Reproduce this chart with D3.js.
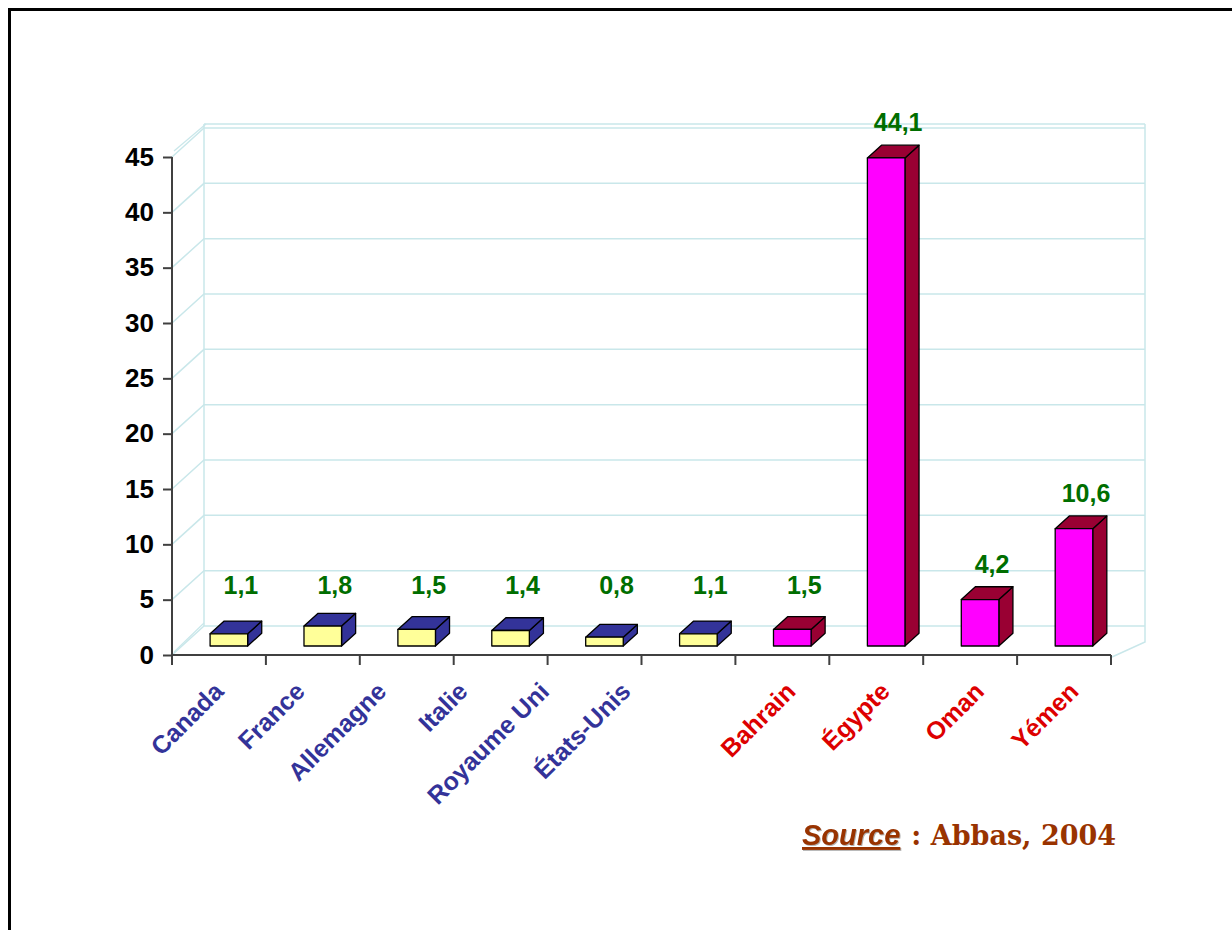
<!DOCTYPE html>
<html>
<head>
<meta charset="utf-8">
<script src="https://cdn.jsdelivr.net/npm/d3@7"></script>
<style>
  html, body { margin: 0; padding: 0; background: #fff; }
  svg { display: block; }
</style>
</head>
<body>
<svg id="chart" width="1232" height="930"></svg>
<script>
// ---------- data ----------
const categories = ["Canada", "France", "Allemagne", "Italie", "Royaume Uni", "États-Unis", "Bahrain", "Égypte", "Oman", "Yémen"];
const values = [1.1, 1.8, 1.5, 1.4, 0.8, 1.1, 1.5, 44.1, 4.2, 10.6];
const groups = ["ouest", "ouest", "ouest", "ouest", "ouest", "ouest", "arabe", "arabe", "arabe", "arabe"];
const yTickValues = [0, 5, 10, 15, 20, 25, 30, 35, 40, 45];
const sourceLabel = "Source";
const sourceText = ": Abbas, 2004";

// ---------- layout ----------
const svg = d3.select("#chart");
const DX = 32, DY = -29;          // 3D depth offset
const F1 = 0.31, F2 = 0.75;        // bar depth (fraction of depth)

const x = d3.scaleBand().domain(categories).range([172, 1111]).paddingInner(0.6).paddingOuter(0.3);
const y = d3.scaleLinear().domain([0, 45]).range([655, 157]);

const colors = {
  ouest: { front: "#ffff99", top: "#333399", side: "#333399", label: "#333399" },
  arabe: { front: "#ff00ff", top: "#990033", side: "#990033", label: "#dd0000" }
};
const gridColor = "#c9e7ea";

// border frame
svg.append("path")
  .attr("d", "M9.5,930 L9.5,9.5 L1232,9.5")
  .attr("fill", "none").attr("stroke", "#000").attr("stroke-width", 3);

const P = (xx, v, f) => [xx + f * DX, y(v) + f * DY];

// ---------- walls & grid ----------
const walls = svg.append("g");
const xLeft = x.range()[0], xRight = x.range()[1];
const backRight = xRight + DX + 2;
yTickValues.forEach(v => {
  const a = P(xLeft, v, 0), b = P(xLeft, v, 1);
  walls.append("path")
    .attr("d", `M${a[0]},${a[1]}L${b[0]},${b[1]}L${backRight},${b[1]}`)
    .attr("fill", "none").attr("stroke", gridColor).attr("stroke-width", 1.5);
});
{
  const a = P(xLeft, 0, 0), b = P(xLeft, 0, 1);
  walls.append("line")
    .attr("x1", a[0] + 2).attr("y1", a[1] - 3).attr("x2", b[0]).attr("y2", b[1] - 3)
    .attr("stroke", gridColor).attr("stroke-width", 1.2);
}
const bTL = P(xLeft, 45, 1);
const bTopY = bTL[1] - 4;
walls.append("path")
  .attr("d", `M${bTL[0]},${bTopY}L${backRight},${bTopY}`)
  .attr("fill", "none").attr("stroke", gridColor).attr("stroke-width", 1.5);
walls.append("line")
  .attr("x1", bTL[0]).attr("y1", bTopY).attr("x2", bTL[0]).attr("y2", P(xLeft, 0, 1)[1])
  .attr("stroke", gridColor).attr("stroke-width", 1.5);
walls.append("line")
  .attr("x1", xLeft + 2).attr("y1", P(xLeft, 45, 0)[1] - 6).attr("x2", bTL[0] + 2).attr("y2", bTopY)
  .attr("stroke", gridColor).attr("stroke-width", 1.2);
const floorRightFront = [xRight + 1, y(0) + 2];
walls.append("path")
  .attr("d", `M${backRight},${bTopY}L${backRight},${y(0) - 13}L${floorRightFront[0]},${floorRightFront[1]}`)
  .attr("fill", "none").attr("stroke", gridColor).attr("stroke-width", 1.5);

// ---------- axes ----------
const axisColor = "#404040";
const yAxis = d3.axisLeft(y).tickValues(yTickValues).tickSize(9).tickPadding(9).tickFormat(d3.format("d"));
const gy = svg.append("g").attr("transform", `translate(${xLeft},0)`).call(yAxis);
gy.select(".domain").remove();
gy.selectAll(".tick line").attr("stroke", axisColor).attr("stroke-width", 2);
gy.selectAll(".tick text")
  .attr("font-family", "'Liberation Sans', Arial, sans-serif")
  .attr("font-weight", "bold").attr("font-size", 26).attr("fill", "#000");
svg.append("line")
  .attr("x1", xLeft).attr("x2", xLeft).attr("y1", y(45)).attr("y2", y(0) + 10)
  .attr("stroke", axisColor).attr("stroke-width", 2);

svg.append("line")
  .attr("x1", xLeft).attr("x2", xRight).attr("y1", y(0)).attr("y2", y(0))
  .attr("stroke", axisColor).attr("stroke-width", 2);
const step = x.step();
d3.range(categories.length + 1).forEach(i => {
  const tx = xLeft + i * step;
  svg.append("line")
    .attr("x1", tx).attr("x2", tx).attr("y1", y(0)).attr("y2", y(0) + 10)
    .attr("stroke", axisColor).attr("stroke-width", 2);
});

// ---------- bars ----------
const data = categories.map((c, i) => ({ c, v: values[i], g: groups[i] }));
const bars = svg.append("g");
const poly = pts => "M" + pts.map(p => p.join(",")).join("L") + "Z";
data.forEach(d => {
  const x0 = x(d.c), x1 = x0 + x.bandwidth();
  const col = colors[d.g];
  const g = bars.append("g").attr("stroke", "#000").attr("stroke-width", 1.3).attr("stroke-linejoin", "round");
  g.append("path").attr("d", poly([P(x1, d.v, F1), P(x1, 0, F1), P(x1, 0, F2), P(x1, d.v, F2)])).attr("fill", col.side);
  g.append("path").attr("d", poly([P(x0, d.v, F1), P(x1, d.v, F1), P(x1, d.v, F2), P(x0, d.v, F2)])).attr("fill", col.top);
  g.append("path").attr("d", poly([P(x0, 0, F1), P(x1, 0, F1), P(x1, d.v, F1), P(x0, d.v, F1)])).attr("fill", col.front);
});

// value labels
const fmt = v => d3.format(".1f")(v).replace(".", ",");
svg.append("g").selectAll("text").data(data).join("text")
  .attr("x", d => x(d.c) + x.bandwidth() / 2 + (F1 + F2) / 2 * DX + 5)
  .attr("y", d => P(0, Math.max(d.v, 2.3), F1)[1] - 36)
  .attr("text-anchor", "middle").attr("dominant-baseline", "central")
  .attr("font-family", "'Liberation Sans', Arial, sans-serif")
  .attr("font-weight", "bold").attr("font-size", 25).attr("fill", "#006e00")
  .text(d => fmt(d.v));

// category labels (rotated)
const westCats = categories.filter((c, i) => groups[i] === "ouest");
const arabCats = categories.filter((c, i) => groups[i] === "arabe");
const xLabWest = d3.scalePoint().domain(westCats).range([225, 632]);
const xLabArab = d3.scalePoint().domain(arabCats).range([797, 1080]);
svg.append("g").selectAll("text").data(data).join("text")
  .attr("transform", d => `translate(${d.g === "ouest" ? xLabWest(d.c) : xLabArab(d.c)},${y(0) + 38}) rotate(-45)`)
  .attr("text-anchor", "end")
  .attr("font-family", "'Liberation Sans', Arial, sans-serif")
  .attr("font-weight", "bold").attr("font-size", 25)
  .attr("fill", d => colors[d.g].label)
  .text(d => d.c);

// ---------- source ----------
const src = svg.append("g").attr("transform", "translate(802,845)");
const s1 = src.append("text")
  .attr("font-family", "'Liberation Sans', Arial, sans-serif")
  .attr("font-style", "italic").attr("font-weight", "bold").attr("font-size", 29)
  .attr("text-decoration", "underline")
  .style("filter", "drop-shadow(1.5px 1.5px 0px rgba(0,0,0,0.3))")
  .attr("fill", "#993300").text(sourceLabel);
const w1 = s1.node().getComputedTextLength();
src.append("text").attr("x", w1 + 11)
  .attr("font-family", "'DejaVu Serif', serif")
  .attr("font-weight", "bold").attr("font-size", 27)
  .attr("fill", "#993300").text(sourceText);
</script>
</body>
</html>
